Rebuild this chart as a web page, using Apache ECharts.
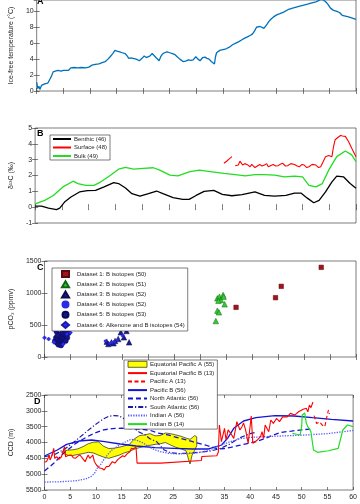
<!DOCTYPE html>
<html><head><meta charset="utf-8">
<script src="https://cdn.jsdelivr.net/npm/echarts@6/dist/echarts.min.js"></script>
<style>html,body{margin:0;padding:0;background:#fff}#c{width:360px;height:504px}</style>
</head><body><div id="c"></div>
<script>
// ---------- DATA ----------
const xTicks = [0,5,10,15,20,25,30,35,40,45,50,55,60];
// Panel A: ice-free temperature (°C) vs age (Myr)
const tempA = [[0,1.1],[0.2,0.3],[0.4,0.6],[0.6,0.2],[0.9,0.7],[1.2,0.5],[1.5,0.9],[1.8,1.1],[2.1,1.0],[2.5,1.5],[2.8,1.9],[3.1,2.4],[3.5,2.5],[4.0,2.6],[4.3,2.4],[4.6,2.5],[5.0,2.6],[5.2,2.85],[5.5,2.6],[5.7,2.35],[6.0,2.6],[6.4,2.9],[7.0,2.95],[7.7,2.9],[8.4,2.95],[9.2,2.9],[9.8,3.0],[10.4,3.25],[11.0,3.35],[11.7,3.4],[12.3,3.55],[12.9,3.7],[13.4,4.0],[13.8,4.3],[14.3,4.7],[14.7,5.1],[15.1,5.0],[15.6,4.9],[16.1,4.8],[16.6,4.7],[17.0,4.4],[17.3,4.1],[17.7,4.15],[18.1,4.1],[18.7,4.0],[19.3,3.8],[19.8,4.1],[20.2,4.4],[20.6,4.2],[20.9,4.1],[21.3,4.4],[21.7,4.7],[22.0,4.5],[22.4,4.2],[22.7,4.1],[23.0,3.8],[23.3,4.3],[23.6,4.6],[24.0,4.8],[24.5,4.9],[25.0,4.8],[25.5,4.7],[25.9,4.6],[26.4,4.3],[26.9,4.0],[27.5,3.7],[28.0,3.75],[28.5,3.9],[29.0,3.85],[29.4,3.9],[29.9,4.3],[30.3,4.0],[30.7,3.8],[31.2,4.2],[31.6,4.25],[32.0,4.1],[32.4,4.0],[32.8,3.7],[33.1,3.55],[33.4,3.4],[33.6,4.3],[33.8,4.8],[34.4,5.1],[35.0,5.2],[35.6,5.3],[36.2,5.5],[36.8,5.8],[37.4,6.0],[38.0,6.2],[38.5,6.4],[39.0,6.6],[39.6,6.8],[40.2,7.0],[40.6,7.2],[41.0,7.6],[41.3,8.0],[41.6,8.2],[42.0,8.1],[42.3,7.9],[42.7,7.85],[42.9,8.0],[43.3,8.4],[43.6,8.7],[44.0,9.0],[44.5,9.3],[45.1,9.55],[45.7,9.7],[46.4,9.9],[47.2,10.2],[48.1,10.4],[49.1,10.6],[50.0,10.75],[50.9,10.9],[51.7,11.05],[52.5,11.2],[53.0,11.35],[53.4,11.5],[53.8,11.45],[54.3,11.2],[54.7,10.9],[55.2,10.4],[55.7,10.15],[56.4,10.0],[56.9,9.85],[57.4,9.5],[58.0,9.4],[58.6,9.3],[59.3,9.15],[60,9.0]];
const tempTicks = [0,2,4,6,8,10];

// Panel B: d13C
const benthic = [[0,0.06],[1.2,0.06],[2.5,-0.06],[4.0,-0.15],[4.6,-0.06],[5.5,0.32],[6.7,0.64],[8.3,0.96],[9.8,1.04],[11.3,1.06],[12.9,1.28],[14.7,1.55],[15.6,1.49],[16.9,1.21],[18.1,0.85],[19.6,0.70],[21.2,0.85],[22.7,1.02],[23.9,0.85],[25.8,0.60],[27.6,0.49],[28.8,0.49],[30.1,0.74],[31.6,1.0],[33.4,1.06],[35.0,0.81],[36.8,0.72],[38.7,0.79],[41.1,0.96],[42.9,0.74],[44.8,0.70],[46.9,0.74],[48.5,0.89],[49.7,0.89],[50.9,0.57],[52.1,0.28],[53.1,0.43],[54.3,0.96],[55.5,1.6],[56.4,1.96],[57.7,1.91],[58.9,1.49],[60,1.2]];
const surface = [[35.3,2.77],[35.8,2.9],[36.3,3.05],[36.8,3.19],[37.1,'-'],[37.4,2.62],[37.7,2.70],[38.0,2.66],[38.2,2.77],[38.3,2.91],[38.5,3.0],[38.8,2.66],[39.2,2.75],[39.6,2.70],[40.2,2.55],[40.5,2.7],[40.8,2.66],[41.1,2.5],[41.4,2.49],[42.0,2.70],[42.4,2.6],[42.9,2.66],[43.3,2.75],[43.6,2.55],[44.0,2.62],[44.5,2.70],[45.0,2.6],[45.4,2.62],[45.9,2.72],[46.3,2.77],[46.8,2.6],[47.2,2.62],[47.8,2.75],[48.5,2.70],[49.0,2.6],[49.4,2.55],[49.9,2.7],[50.3,2.66],[50.8,2.5],[51.2,2.55],[51.8,2.7],[52.5,2.66],[53.0,2.5],[53.4,2.55],[53.9,2.9],[54.3,3.19],[54.9,3.26],[55.5,3.19],[55.8,3.83],[56.1,4.26],[56.6,4.4],[57.1,4.53],[57.5,4.5],[58.0,4.47],[58.6,4.15],[59.2,3.72],[60,3.19]];
const bulk = [[0,0.21],[1.8,0.43],[3.4,0.74],[5.2,1.28],[7.1,1.64],[8.0,1.49],[9.5,1.38],[11.0,1.38],[12.3,1.6],[14.1,2.02],[15.6,2.4],[16.9,2.51],[18.4,2.4],[20.2,2.45],[22.1,2.49],[23.3,2.34],[25.2,2.02],[26.7,1.98],[28.8,2.23],[30.7,2.34],[33.1,2.23],[35.3,2.13],[37.4,2.06],[39.3,1.98],[41.1,2.06],[42.9,2.06],[44.8,2.02],[46.6,1.91],[48.5,1.96],[50.0,1.91],[51.2,1.38],[52.5,1.28],[53.7,1.49],[54.9,2.34],[56.4,3.19],[58.0,3.55],[59.2,3.3],[60,2.87]];
const d13Ticks = [-1,0,1,2,3,4,5];

// Panel C: pCO2
const ds1 = [[36.9,776],[44.5,927],[45.6,1104],[53.3,1401]];
const ds2 = [[33.0,562],[33.3,724],[33.6,698],[33.3,917],[33.7,943],[34.0,891],[34.4,969],[34.5,943],[34.7,823],[33.5,880]];
const ds3 = [[12.0,240],[12.3,203],[12.9,229],[13.6,250],[14.2,281],[14.7,385],[15.3,307],[15.8,406],[16.3,229],[13.3,215]];
const ds4 = [[11.7,250],[12.6,213],[13.5,240],[14.1,271],[15.0,333],[13.0,230],[2.5,260],[3.2,300],[4.0,350]];
const ds5 = [[2.0,250],[2.2,300],[2.4,220],[2.6,280],[2.8,350],[2.9,240],[3.0,200],[3.1,320],[3.3,270],[3.4,380],[3.5,230],[3.6,310],[3.7,260],[3.8,350],[3.9,290],[4.0,410],[4.2,330],[4.4,300],[2.3,400],[2.7,190],[3.2,180],[4.1,250],[4.6,370],[2.5,340]];
const ds6 = [[0,300],[0.8,280],[2.1,420],[2.6,430],[3.4,440],[4.4,440],[4.9,420],[5.0,380],[1.8,230],[3.6,200],[4.3,360]];
const pco2Ticks = [0,500,1000,1500];

// Panel D: CCD (m)
const eqPacAX      = [3.4,4.5,5.5,6.5,7.5,8.5,9.5,10.5,11.5,12.5,13.5,14.5,15.5,16.5,17.5,18.5,19.5,20.5,21.5,22.5,23.5,24.5,25.5,26.5,27.5,28.3,28.7,29.2,29.6];
const eqPacATop    = [4300,4240,4230,4200,4130,4040,3990,3980,4120,4190,4180,4150,4110,4060,3880,3780,3760,3720,3790,3780,3700,3720,3760,3800,3860,3900,3850,3780,3820];
const eqPacABottom = [4330,4400,4410,4380,4350,4310,4330,4400,4460,4500,4450,4400,4330,4280,4210,4160,4120,4090,4060,4040,4000,4080,4150,4200,4260,4680,4400,4250,4100];
const eqPacB = [[0,4626],[0.4,4600],[0.7,4500],[0.9,4395],[1.1,4550],[1.5,4395],[1.8,4185],[2.0,4500],[2.4,4450],[2.8,4530],[3.3,4450],[3.7,4237],[3.9,4132],[4.1,4450],[4.5,4420],[5.2,4395],[5.6,4480],[6.0,4500],[6.5,4430],[6.9,4395],[7.3,4480],[7.9,4606],[8.2,4500],[8.5,4395],[8.8,4500],[9.1,4450],[9.4,4395],[9.7,4600],[10.1,4711],[10.7,4806],[11.2,4820],[11.6,4870],[12.0,4763],[12.5,4760],[13.2,4606],[13.7,4650],[14.2,4550],[14.7,4480],[15.2,4420],[15.6,4448],[16.1,4350],[16.6,4290],[16.9,4185],[17.3,4200],[17.8,4150],[18.0,4650],[22.6,4650],[22.7,4590],[30.5,4570],[30.6,4440],[33.5,4420],[33.8,4300],[34.0,3447],[34.4,3974],[35.0,3553],[35.3,3921],[35.7,3600],[36.2,3710],[36.8,3870],[37.4,3342],[38.0,3605],[38.4,3500],[38.7,3380],[39.1,3600],[39.6,4026],[40.2,3163],[40.5,4026],[40.8,4079],[41.4,3921],[42.0,3816],[42.3,3660],[42.6,3870],[42.9,3450],[43.6,3660],[44.0,3290],[44.5,3395],[45.1,3240],[45.7,3340],[46.3,3190],[46.6,3130],[47.2,3190],[47.8,3080],[48.7,3130],[49.4,3030],[50.3,2950],[50.9,2920],[51.2,3030],[51.5,2820],[51.8,2900],[52.2,2720]];
const pacA = [[52.4,3150],[52.9,3400],[53.5,3350],[54.0,3450],[54.5,3500],[54.9,3184],[55.2,2974],[55.4,3100]];
const pacB = [[0,4426],[2.5,4237],[4.3,4058],[6.7,3953],[9.2,3921],[11.7,3974],[14.7,4047],[17.8,4110],[21.5,4163],[25.2,4184],[28.8,4205],[31.9,4205],[34.4,4079],[35.6,3868],[36.8,3553],[38.7,3321],[41.1,3216],[44.8,3153],[48.5,3163],[52.1,3216],[55.8,3268],[60,3321]];
const northAtl = [[0,4900],[1.8,4658],[3.7,4342],[6.1,4026],[8.3,3816],[10,3690],[11.5,3600],[13.2,3560],[15,3550],[17,3560],[19,3580],[20.6,3620],[22,3700],[24,3760],[26.4,3868],[28.8,3974],[31.3,4079],[33.7,4205],[35,4190],[36.2,4153],[38.7,4058],[41.1,3974],[43,3868],[44.5,3763],[46,3679],[48,3640],[50,3600],[51.8,3574]];
const southAtl = [[0,4450],[2,4380],[4,4200],[6,3950],[8,3680],[10,3420],[11.5,3250],[12.5,3170],[13.5,3150],[14.5,3160],[15.5,3250],[16.5,3400],[17.5,3560],[18.5,3680],[19.5,3750],[20.5,3880],[21.8,3974],[23.3,4237],[24.5,4320],[26,4350],[28,4340],[30,4310],[32,4280],[34,4200],[36,4050],[38,3850],[40,3720],[41,3680]];
const indianA = [[0,5250],[3,5240],[6,5210],[8,5150],[9,5080],[9.7,4980],[10.3,4800],[10.9,4700],[11.5,4550],[12.2,4400],[13,4250],[14.4,4100],[15.5,4000],[16.8,3900],[17.8,3920],[19,4000],[20,4100],[21,4200],[22.5,4290],[24,4340],[26,4360],[28,4350],[30,4320],[32,4250],[34,4100],[36,3980],[38,3880],[40,3840],[45,3800],[50,3770],[55,3720],[60,3620]];
const indianB = [[48.2,3710],[49.0,3740],[49.7,3763],[50.0,3500],[50.1,3132],[50.6,3068],[50.9,3395],[51.2,3500],[51.8,3660],[52.3,4237],[53.1,4310],[55.2,4260],[57.1,4185],[58.0,3605],[58.9,3447],[60,3500]];
const ccdTicks = [2500,3000,3500,4000,4500,5000,5500];

// ---------- CHART ----------
const FONT = 'Liberation Sans, Arial, sans-serif';
const INK = '#262626';
const chart = echarts.init(document.getElementById('c'), null, {renderer:'canvas'});

const gridDefs = [
  {top:0, height:91}, {top:128, height:95}, {top:261, height:96}, {top:395, height:95}
];
const grids = gridDefs.map(g => ({left:30, right:4, top:g.top, height:g.height, show:true, borderColor:INK, borderWidth:0.6, backgroundColor:'transparent'}));

const tick = {show:true, inside:true, length:3, lineStyle:{color:INK, width:0.6}};
const plainNum = v => String(v);
function xAx(i, pos, labels){
  return {type:'value', gridIndex:i, position:pos, min:xTicks[0], max:xTicks[xTicks.length-1], interval:5,
    axisLine:{show:false}, axisTick:tick, splitLine:{show:false},
    axisLabel:{show:labels, fontSize:7, color:INK, fontFamily:FONT, margin:4, formatter:plainNum}};
}
const xAxes = [xAx(0,'bottom',false), xAx(1,'bottom',false), xAx(2,'bottom',false), xAx(3,'bottom',true),
               xAx(0,'top',false), xAx(1,'top',false), xAx(2,'top',false), xAx(3,'top',false)];

const yDefs = [
  {min:tempTicks[0], max:11.42, interval:2, name:'Ice-free temperature (°C)', gap:12},
  {min:d13Ticks[0], max:d13Ticks[d13Ticks.length-1], interval:1, name:'δ¹³C (‰)', gap:11},
  {min:pco2Ticks[0], max:pco2Ticks[pco2Ticks.length-1], interval:500, name:'pCO₂ (ppmv)', gap:20},
  {min:ccdTicks[0], max:ccdTicks[ccdTicks.length-1], interval:500, name:'CCD (m)', gap:20, inverse:true}
];
const yAxes = [];
yDefs.forEach((d,i)=>{
  yAxes.push({type:'value', gridIndex:i, position:'left', min:d.min, max:d.max, interval:d.interval, inverse:!!d.inverse,
    name:d.name, nameLocation:'middle', nameGap:d.gap, nameRotate:90,
    nameTextStyle:{fontSize:7, color:INK, fontFamily:FONT},
    axisLine:{show:false}, axisTick:tick, splitLine:{show:false},
    axisLabel:{fontSize:7, color:INK, fontFamily:FONT, margin:3, showMaxLabel: i!==0, formatter:plainNum}});
});
yDefs.forEach((d,i)=>{
  yAxes.push({type:'value', gridIndex:i, position:'right', min:d.min, max:d.max, interval:d.interval, inverse:!!d.inverse,
    axisLine:{show:false}, axisTick:tick, splitLine:{show:false}, axisLabel:{show:false}});
});

function line(name, data, gi, color, width, type, z){
  return {type:'line', name:name, data:data, xAxisIndex:gi, yAxisIndex:gi, symbol:'none', showSymbol:false,
    connectNulls:false, lineStyle:{color:color, width:width, type:type||'solid'}, itemStyle:{color:color}, z:z||3, silent:true};
}
function scat(name, data, symbol, size, color, border){
  return {type:'scatter', name:name, data:data, xAxisIndex:2, yAxisIndex:2, symbol:symbol, symbolSize:size,
    itemStyle:{color:color, borderColor:border, borderWidth:0.5, opacity:1}, z:3, silent:true};
}

const series = [
  line('temp', tempA, 0, '#0072BD', 1.3),
  line('Benthic (46)', benthic, 1, '#000000', 1.3),
  line('Surface (48)', surface, 1, '#ff0000', 1.1),
  line('Bulk (49)', bulk, 1, '#22dd22', 1.3),
  scat('Dataset 1: B isotopes (50)', ds1, 'rect', 4.5, '#a0141e', '#5a0a10'),
  scat('Dataset 2: B isotopes (51)', ds2, 'triangle', 5.5, '#33cc33', '#116611'),
  scat('Dataset 3: B isotopes (52)', ds3, 'triangle', 5.5, '#1c1c8f', '#0c0c50'),
  scat('Dataset 4: B isotopes (52)', ds4, 'circle', 2.5, '#2a2ae8', '#2a2ae8'),
  scat('Dataset 5: B isotopes (53)', ds5, 'circle', 5, '#14148c', '#0a0a50'),
  scat('Dataset 6: Alkenone and B isotopes (54)', ds6, 'diamond', 4, '#2a2aff', '#1a1aaa'),
  {type:'custom', name:'Equatorial Pacific A (55)', xAxisIndex:3, yAxisIndex:3, z:1, silent:true,
    itemStyle:{color:'#ffff00', borderColor:'#000', borderWidth:0.6},
    data: eqPacAX.map((x,i)=>[x, eqPacATop[i], eqPacABottom[i]]),
    encode:{x:0, y:[1,2]},
    renderItem:function(params, api){
      if (params.dataIndex !== 0) return null;
      const pts = [];
      for (let i=0;i<eqPacAX.length;i++) pts.push(api.coord([eqPacAX[i], eqPacATop[i]]));
      for (let i=eqPacAX.length-1;i>=0;i--) pts.push(api.coord([eqPacAX[i], eqPacABottom[i]]));
      return {type:'polygon', shape:{points:pts}, style:{fill:'#ffff00', stroke:'#000', lineWidth:0.6}};
    }},
  line('Equatorial Pacific B (13)', eqPacB, 3, '#ff0000', 1.1, 'solid', 4),
  line('Pacific A (13)', pacA, 3, '#ff0000', 1.1, [4,2.5], 4),
  line('Pacific B (56)', pacB, 3, '#1414d8', 1.3, 'solid', 3),
  line('North Atlantic (56)', northAtl, 3, '#1414d8', 1.3, [5,3], 3),
  line('South Atlantic (56)', southAtl, 3, '#1a1aa8', 1.2, [5,2,1.2,2], 3),
  line('Indian A (56)', indianA, 3, '#5a5aff', 1.3, [1.3,1.3], 3),
  line('Indian B (14)', indianB, 3, '#22dd22', 1.2, 'solid', 3)
];

// legend entries for line series: hide the marker, keep only the line
const noMark = n => ({name:n, itemStyle:{color:'rgba(0,0,0,0)', borderColor:'rgba(0,0,0,0)', borderWidth:0}});
const legendBase = {orient:'vertical', backgroundColor:'#fff', borderColor:INK, borderWidth:0.6, borderRadius:0,
  selectedMode:false, itemWidth:18, itemHeight:6, itemGap:2.5, textStyle:{fontSize:6, color:INK, fontFamily:FONT, padding:[0,0,0,-2]}};
const legends = [
  Object.assign({}, legendBase, {left:50, top:135, padding:[1,3,1,2],
    data:['Benthic (46)','Surface (48)','Bulk (49)'].map(noMark)}),
  Object.assign({}, legendBase, {left:52, top:268, padding:[2,3,2,9], itemGap:2.2, itemWidth:7, itemHeight:6,
    textStyle:{fontSize:6, color:INK, fontFamily:FONT, padding:[0,0,0,3]},
    data:['Dataset 1: B isotopes (50)','Dataset 2: B isotopes (51)','Dataset 3: B isotopes (52)','Dataset 4: B isotopes (52)','Dataset 5: B isotopes (53)','Dataset 6: Alkenone and B isotopes (54)']}),
  Object.assign({}, legendBase, {left:124, top:360, padding:[1,3,2,3], itemWidth:19,
    data:[{name:'Equatorial Pacific A (55)', icon:'rect', itemStyle:{color:'#ffff00', borderColor:'#000', borderWidth:0.6}}]
      .concat(['Equatorial Pacific B (13)','Pacific A (13)','Pacific B (56)','North Atlantic (56)','South Atlantic (56)','Indian A (56)','Indian B (14)'].map(noMark))})
];

const panelLabel = (t,x,y)=>({type:'text', left:x, top:y, z:100, style:{text:t, fontSize:9, fontWeight:'bold', fill:'#000', font:'bold 9px '+FONT}});

chart.setOption({
  animation:false,
  backgroundColor:'#fff',
  grid:grids, xAxis:xAxes, yAxis:yAxes, series:series, legend:legends,
  graphic:[panelLabel('A',37,-3), panelLabel('B',37,129), panelLabel('C',37,263), panelLabel('D',34,397)]
});
</script></body></html>
